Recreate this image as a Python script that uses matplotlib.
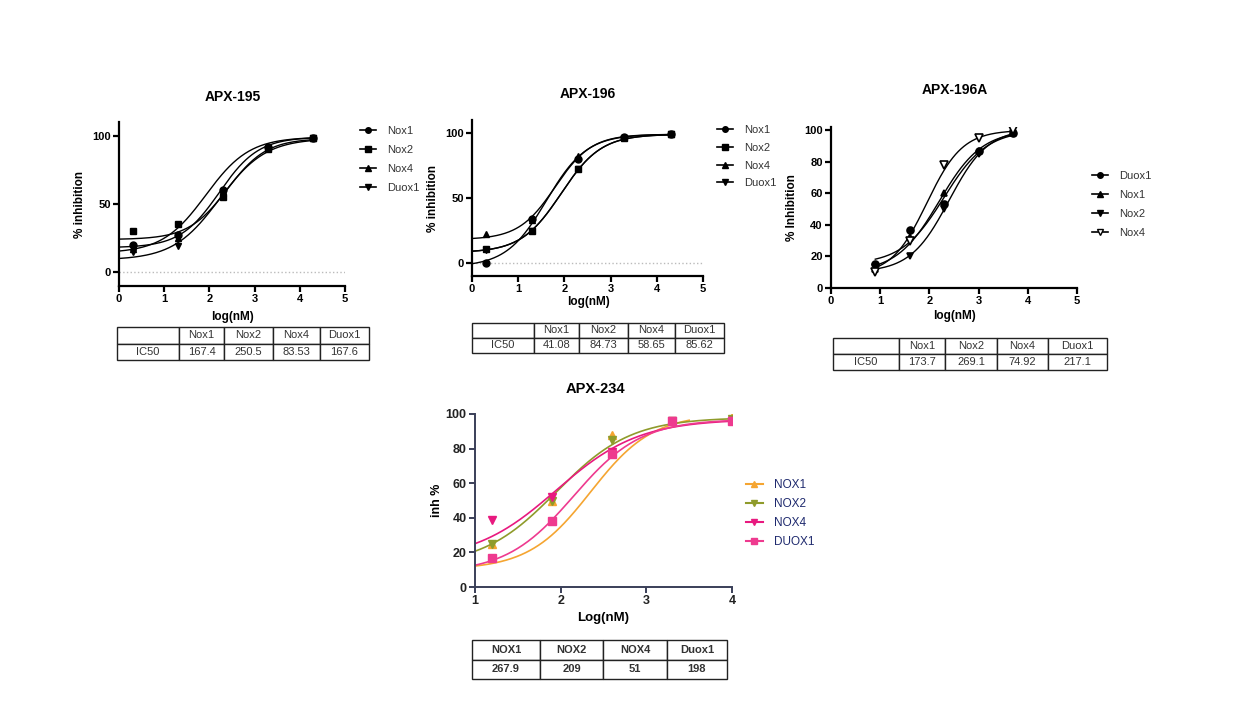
import numpy as np
import matplotlib
matplotlib.use("Agg")
import matplotlib.pyplot as plt
from matplotlib.lines import Line2D

plt.rcParams['font.family'] = ['Liberation Sans', 'DejaVu Sans']
plt.rcParams['font.weight'] = 'bold'

W, H = 1236, 716

# ---- data ----
# APX-195
x195 = [0.3, 1.3, 2.3, 3.3, 4.3]
names195 = ['Nox1', 'Nox2', 'Nox4', 'Duox1']
y195 = {
    'Nox1': [20, 27, 60, 92, 98],
    'Nox2': [30, 35, 55, 90, 98],
    'Nox4': [17, 25, 58, 91, 98],
    'Duox1': [15, 19, 56, 91, 98],
}
# 4PL fit parameters: bottom, top, logIC50, hill
fit195 = {
    'Nox1': [18, 99, 2.22, 1.0],
    'Nox2': [24, 98, 2.40, 1.0],
    'Nox4': [14, 99, 1.92, 0.9],
    'Duox1': [9, 98, 2.22, 0.85],
}
ic50_195 = ['167.4', '250.5', '83.53', '167.6']

# APX-196
x196 = [0.3, 1.3, 2.3, 3.3, 4.3]
names196 = ['Nox1', 'Nox2', 'Nox4', 'Duox1']
y196 = {
    'Nox1': [0, 34, 80, 97, 99],
    'Nox2': [11, 25, 72, 96, 99],
    'Nox4': [22, 33, 82, 97, 99],
    'Duox1': [10, 25, 72, 96, 99],
}
fit196 = {
    'Nox1': [-3, 99, 1.61, 1.0],
    'Nox2': [8, 99, 1.93, 1.0],
    'Nox4': [18, 99, 1.80, 1.1],
    'Duox1': [8, 99, 1.93, 1.0],
}
ic50_196 = ['41.08', '84.73', '58.65', '85.62']

# APX-196A
x196a = [0.9, 1.6, 2.3, 3.0, 3.7]
names196a = ['Duox1', 'Nox1', 'Nox2', 'Nox4']
y196a = {
    'Duox1': [15, 37, 53, 87, 98],
    'Nox1': [12, 32, 60, 87, 98],
    'Nox2': [13, 20, 50, 85, 98],
    'Nox4': [10, 30, 78, 95, 100],
}
fit196a = {
    'Duox1': [15, 100, 2.30, 1.0],
    'Nox1': [10, 100, 2.20, 1.0],
    'Nox2': [10, 101, 2.40, 1.1],
    'Nox4': [8, 100, 1.95, 1.2],
}
ic50_196a = ['173.7', '269.1', '74.92', '217.1']

# APX-234
x234 = [1.2, 1.9, 2.6, 3.3, 4.0]
names234 = ['NOX1', 'NOX2', 'NOX4', 'DUOX1']
y234 = {
    'NOX1': [25, 50, 88, 96, 98],
    'NOX2': [25, 50, 85, 96, 97],
    'NOX4': [39, 52, 78, 96, 96],
    'DUOX1': [17, 38, 77, 96, 96],
}
fit234 = {
    'NOX1': [10, 100, 2.35, 1.2],
    'NOX2': [12, 98, 1.95, 1.0],
    'NOX4': [15, 97, 1.95, 0.9],
    'DUOX1': [8, 97, 2.15, 1.1],
}
fitrange234 = {'NOX1': (1, 3.5), 'NOX2': (1, 4), 'NOX4': (1, 4), 'DUOX1': (1, 4)}
ic50_234_cols = ['NOX1', 'NOX2', 'NOX4', 'Duox1']
ic50_234 = ['267.9', '209', '51', '198']


def fourpl(x, p):
    b, t, c, h = p
    return b + (t - b) / (1 + 10 ** ((c - x) * h))


fig = plt.figure(figsize=(W / 100, H / 100), dpi=100)


def px_axes(l, t, r, b):
    return fig.add_axes([l / W, 1 - b / H, (r - l) / W, (b - t) / H])


def px_text(x, y, s, **kw):
    return fig.text(x / W, 1 - y / H, s, ha='center', va='center', **kw)


def style_axes(ax, color='black', lw=1.6, fs=8):
    for s in ['top', 'right']:
        ax.spines[s].set_visible(False)
    for s in ['left', 'bottom']:
        ax.spines[s].set_linewidth(lw)
        ax.spines[s].set_color(color)
    ax.tick_params(width=lw, length=4, color=color, labelsize=fs, pad=2)


def add_legend(x, y, handles, labels, fs=8, tcolor='#333333', spacing=0.8):
    leg = fig.legend(handles, labels, loc='upper left',
                     bbox_to_anchor=(x / W, 1 - y / H), bbox_transform=fig.transFigure,
                     frameon=False, fontsize=fs, handlelength=1.4, handletextpad=1.0,
                     labelspacing=spacing, borderpad=0, borderaxespad=0)
    for t in leg.get_texts():
        t.set_fontweight('normal')
        t.set_color(tcolor)
    return leg


def add_table(l, t, r, b, rows, widths, bold=False, fs=8):
    tax = px_axes(l, t, r, b)
    tax.axis('off')
    cw = np.array(widths, dtype=float)
    cw = cw / cw.sum()
    tab = tax.table(cellText=rows, colWidths=list(cw), bbox=[0, 0, 1, 1], cellLoc='center')
    tab.auto_set_font_size(False)
    for (i, j), cell in tab.get_celld().items():
        cell.set_linewidth(1.0)
        cell.set_edgecolor('#222222')
        cell.get_text().set_fontsize(fs)
        cell.get_text().set_fontweight('bold' if bold else 'normal')
        cell.get_text().set_color('#333333')
    return tab


markers = {'Nox1': 'o', 'Nox2': 's', 'Nox4': '^', 'Duox1': 'v'}

# ---- APX-195 ----
ax = px_axes(119, 122, 345, 286)
style_axes(ax)
ax.axhline(0, color='#bbbbbb', lw=1, ls=':')
xs = np.linspace(0, 4.3, 200)
for n in names195:
    ax.plot(xs, fourpl(xs, fit195[n]), color='black', lw=1.0)
    ax.plot(x195, y195[n], ls='none', marker=markers[n], ms=5, color='black')
ax.set_xlim(0, 5)
ax.set_ylim(-10, 110)
ax.set_xticks(range(6))
ax.set_yticks([0, 50, 100])
ax.set_ylabel('% inhibition', fontsize=8.5, fontweight='bold', labelpad=4)
px_text(233, 97, 'APX-195', fontsize=10, fontweight='bold')
px_text(232, 317, 'log(nM)', fontsize=8.5, fontweight='bold')
h = [Line2D([], [], color='black', marker=markers[n], ms=4, lw=1.2) for n in names195]
add_legend(360, 126, h, names195)
add_table(117, 327, 369, 360, [['', 'Nox1', 'Nox2', 'Nox4', 'Duox1'], ['IC50'] + ic50_195],
          [62, 45, 49, 47, 49])

# ---- APX-196 ----
ax = px_axes(472, 120, 703, 276)
style_axes(ax)
ax.axhline(0, color='#bbbbbb', lw=1, ls=':')
xs = np.linspace(0, 4.3, 200)
for n in names196:
    ax.plot(xs, fourpl(xs, fit196[n]), color='black', lw=1.0)
    ax.plot(x196, y196[n], ls='none', marker=markers[n], ms=5, color='black')
ax.set_xlim(0, 5)
ax.set_ylim(-10, 110)
ax.set_xticks(range(6))
ax.set_yticks([0, 50, 100])
ax.set_ylabel('% inhibition', fontsize=8.5, fontweight='bold', labelpad=4)
px_text(588, 94, 'APX-196', fontsize=10, fontweight='bold')
px_text(588, 302, 'log(nM)', fontsize=8.5, fontweight='bold')
h = [Line2D([], [], color='black', marker=markers[n], ms=4, lw=1.2) for n in names196]
add_legend(717, 125, h, names196, spacing=0.7)
add_table(472, 323, 724, 353, [['', 'Nox1', 'Nox2', 'Nox4', 'Duox1'], ['IC50'] + ic50_196],
          [62, 45, 49, 47, 49])

# ---- APX-196A ----
markers_a = {'Duox1': 'o', 'Nox1': '^', 'Nox2': 'v', 'Nox4': 'v'}
ax = px_axes(831, 127, 1077, 288)
style_axes(ax)
xs = np.linspace(0.9, 3.7, 200)
for n in names196a:
    ax.plot(xs, fourpl(xs, fit196a[n]), color='black', lw=1.0)
    face = 'white' if n == 'Nox4' else 'black'
    ax.plot(x196a, y196a[n], ls='none', marker=markers_a[n], ms=5.5 if n == 'Nox4' else 5,
            color='black', mfc=face, mew=1.2)
ax.set_xlim(0, 5)
ax.set_ylim(0, 102)
ax.set_xticks(range(6))
ax.set_yticks(range(0, 101, 20))
ax.set_ylabel('% Inhibition', fontsize=8.5, fontweight='bold', labelpad=4)
px_text(955, 90, 'APX-196A', fontsize=10, fontweight='bold')
px_text(954, 316, 'log(nM)', fontsize=8.5, fontweight='bold')
h = [Line2D([], [], color='black', marker=markers_a[n], ms=4, lw=1.2,
            mfc='white' if n == 'Nox4' else 'black') for n in names196a]
add_legend(1092, 171, h, names196a)
add_table(833, 338, 1107, 370, [['', 'Nox1', 'Nox2', 'Nox4', 'Duox1'], ['IC50'] + ic50_196a],
          [66, 46, 52, 51, 59])

# ---- APX-234 ----
colors234 = {'NOX1': '#F5A531', 'NOX2': '#8F9B2B', 'NOX4': '#E8197F', 'DUOX1': '#EE3A8F'}
markers234 = {'NOX1': '^', 'NOX2': 'v', 'NOX4': 'v', 'DUOX1': 's'}
ax = px_axes(475, 414, 732, 587)
style_axes(ax, color='#3a3f58', lw=1.4, fs=9)
for n in names234:
    lo, hi = fitrange234[n]
    xs = np.linspace(lo, hi, 200)
    ax.plot(xs, fourpl(xs, fit234[n]), color=colors234[n], lw=1.2)
    ax.plot(x234, y234[n], ls='none', marker=markers234[n], ms=6, color=colors234[n])
ax.set_xlim(1, 4)
ax.set_ylim(0, 100)
ax.set_xticks([1, 2, 3, 4])
ax.set_yticks(range(0, 101, 20))
ax.tick_params(labelcolor='#222222')
ax.set_ylabel('inh %', fontsize=9, fontweight='bold', labelpad=2)
px_text(595, 389, 'APX-234', fontsize=10.5, fontweight='bold')
px_text(603, 618, 'Log(nM)', fontsize=9.5, fontweight='bold')
h = [Line2D([], [], color=colors234[n], marker=markers234[n], ms=4.5, lw=1.5) for n in names234]
add_legend(746, 479, h, names234, fs=8.5, tcolor='#1f2a6e', spacing=0.6)
add_table(472, 640, 727, 679, [ic50_234_cols, ic50_234], [68, 63, 64, 60], bold=True)

fig.savefig('out.png', dpi=100, facecolor='white')
